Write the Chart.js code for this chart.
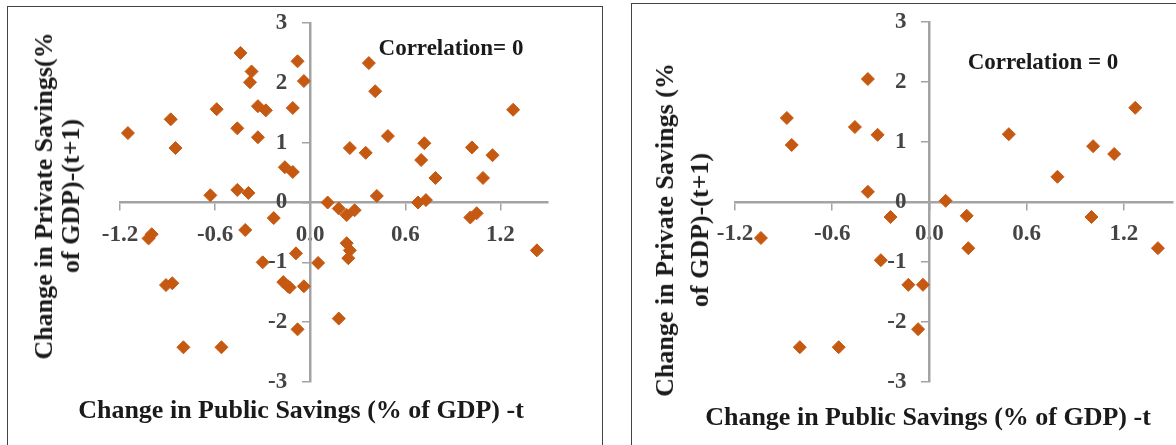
<!DOCTYPE html>
<html>
<head>
<meta charset="utf-8">
<script src="https://cdn.jsdelivr.net/npm/chart.js@4.4.1/dist/chart.umd.min.js"></script>
<style>
  html, body { margin: 0; padding: 0; background: #fff; overflow: hidden; }
  #page { position: relative; width: 1176px; height: 445px; overflow: hidden;
          font-family: 'Liberation Serif', 'Times New Roman', serif; }
  .frame { position: absolute; border: 1px solid #444; }
  canvas { position: absolute; top: 0; }
  .txt { position: absolute; font-weight: bold; color: #1a1a1a; white-space: nowrap; }
  .ytitle { text-align: center; transform: translate(-50%, -50%) rotate(-90deg); }
  .xtitle { transform: translate(-50%, -50%); font-size: 26px; }
  .corr { transform: translate(-50%, -50%); font-size: 23px; }
</style>
</head>
<body>
<div id="page">
  <div class="frame" style="left:7px; top:6px; width:594px; height:470px;"></div>
  <div class="frame" style="left:631px; top:3px; width:600px; height:470px;"></div>
  <canvas id="leftChart" width="601" height="445" style="left:0px;"></canvas>
  <canvas id="rightChart" width="560" height="445" style="left:620px;"></canvas>

  <div class="txt ytitle" style="left:57px; top:196px; font-size:26px; line-height:27px;">Change in Private Savings(%<br>of GDP)-(t+1)</div>
  <div class="txt ytitle" style="left:682px; top:230px; font-size:26px; line-height:35px;">Change in Private Savings (%<br>of GDP)-(t+1)</div>
  <div class="txt xtitle" style="left:301px; top:410px;">Change in Public Savings (% of GDP) -t</div>
  <div class="txt xtitle" style="left:928px; top:417px;">Change in Public Savings (% of GDP) -t</div>
  <div class="txt corr" style="left:451px; top:48px;">Correlation= 0</div>
  <div class="txt corr" style="left:1043px; top:62px;">Correlation = 0</div>
</div>

<script>
// axis ticks
const xTicks = [-1.2, -0.6, 0, 0.6, 1.2];
const yTicks = [-3, -2, -1, 0, 1, 2, 3];
const xMin = -1.2;
const xMax = 1.5;
const yMin = -3;
const yMax = 3;

// left panel: all observations
const leftX = [-1.15, -0.88, -0.85, -0.59, -0.44, -0.37, -0.38, -0.33, -0.28, -0.11,
  -0.46, -0.33, -0.16, -0.11, -0.63, -0.46, -0.39, -0.08, -0.04, -0.23,
  0.37, 0.41, 1.28, 0.25, 0.35, 0.49, 0.72, 0.70, 0.79, 1.02,
  1.15, 1.09, 0.42, 0.68, 0.73, 0.11, 0.18, 0.23, 0.28, 1.43,
  0.23, 0.25, 0.24, -0.09, 0.05, -0.14, -0.04, 0.18, -0.08, -1.02,
  -1.00, -0.91, -0.87, -0.80, -0.56, -0.41, -0.30, -0.17, -0.13, 1.01,
  1.05];
const leftY = [1.16, 1.39, 0.91, 1.56, 2.50, 2.19, 2.01, 1.61, 1.54, 1.58,
  1.24, 1.09, 0.59, 0.51, 0.12, 0.21, 0.16, 2.36, 2.03, -0.26,
  2.33, 1.86, 1.55, 0.91, 0.83, 1.11, 0.99, 0.71, 0.41, 0.92,
  0.79, 0.41, 0.11, 0.00, 0.04, 0.00, -0.10, -0.21, -0.13, -0.80,
  -0.68, -0.80, -0.93, -0.85, -1.01, -1.40, -1.40, -1.94, -2.12, -0.60,
  -0.53, -1.38, -1.35, -2.42, -2.42, -0.46, -1.00, -1.33, -1.42, -0.25,
  -0.18];

// right panel: subset
const rightX = [-0.88, -0.85, -0.38, -0.46, -0.32, -0.38, -0.24, 0.49, 1.01, 1.14,
  1.27, 0.79, 0.10, 0.23, 1.00, 0.24, 1.41, -0.13, -0.04, -0.07,
  -1.04, -0.80, -0.56, -0.30];
const rightY = [1.40, 0.95, 2.05, 1.25, 1.12, 0.17, -0.25, 1.13, 0.93, 0.80,
  1.57, 0.42, 0.02, -0.23, -0.25, -0.77, -0.77, -1.38, -1.38, -2.12,
  -0.60, -2.42, -2.42, -0.97];

const markerColor = '#C65911';
const axisColor = '#a3a3a3';
const tickFont = { family: "'Liberation Serif', 'Times New Roman', serif", size: 23, weight: 'bold', lineHeight: 1 };

const makePoints = (xs, ys) => xs.map((x, i) => ({ x: x, y: ys[i] }));

// builds one Excel-like scatter with axes crossing at the origin
function drawPanel(canvasId, xs, ys, pad) {
  const ctx = document.getElementById(canvasId);
  return new Chart(ctx, {
    type: 'scatter',
    data: {
      datasets: [{
        data: makePoints(xs, ys),
        pointStyle: 'rectRot',
        pointRadius: 6.5,
        pointBorderWidth: 1,
        backgroundColor: markerColor,
        borderColor: markerColor,
      }],
    },
    options: {
      responsive: false,
      animation: false,
      layout: { padding: pad },
      plugins: { legend: { display: false }, tooltip: { enabled: false } },
      scales: {
        x: {
          type: 'linear',
          min: xMin,
          max: xMax,
          position: { y: 0 },
          afterBuildTicks: (s) => { s.ticks = xTicks.map((v) => ({ value: v })); },
          ticks: {
            font: tickFont,
            color: '#444',
            padding: 14,
            maxRotation: 0,
            callback: (v) => Number(v).toFixed(1),
          },
          grid: { display: true, drawOnChartArea: false, drawTicks: true, tickLength: 7, color: axisColor, lineWidth: 1.5 },
          border: { display: true, color: axisColor, width: 2.5 },
        },
        y: {
          type: 'linear',
          min: yMin,
          max: yMax,
          position: { x: 0 },
          afterBuildTicks: (s) => { s.ticks = yTicks.map((v) => ({ value: v })); },
          ticks: {
            font: tickFont,
            color: '#444',
            // labels sit on the axis when it is placed at x=0, so pad with spaces
            callback: (v) => String(v) + '    ',
          },
          grid: { display: true, drawOnChartArea: false, drawTicks: true, tickLength: 7, color: axisColor, lineWidth: 1.5 },
          border: { display: true, color: axisColor, width: 2.5 },
        },
      },
    },
  });
}

drawPanel('leftChart', leftX, leftY, { left: 120, right: 53, top: 23, bottom: 63 });
drawPanel('rightChart', rightX, rightY, { left: 115, right: 2, top: 22, bottom: 63 });
</script>
</body>
</html>
